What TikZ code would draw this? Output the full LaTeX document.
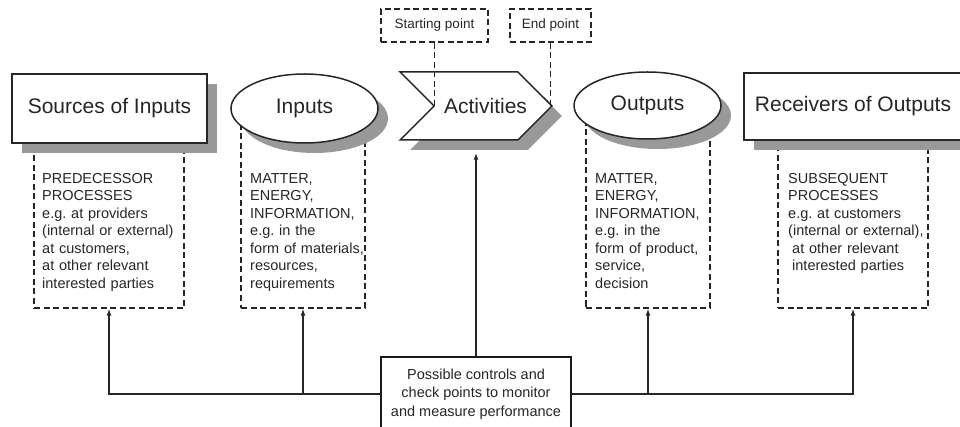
\documentclass[tikz,border=0pt]{standalone}
\usepackage{fontspec}
\setmainfont{Liberation Sans}
\frenchspacing
\usetikzlibrary{shapes.geometric,shapes.symbols,shadows,arrows.meta}

\begin{document}
\begin{tikzpicture}[x=1pt, y=-1pt, >={Latex[length=7pt,width=5pt]},
		block/.style={draw=black!85, line width=1.5pt, fill=white, inner sep=0pt, text=black!85, font=\fontsize{21}{25}\selectfont, drop shadow={shadow xshift=10pt, shadow yshift=-10pt, fill=black!40, opacity=1}},
		dashbox/.style={draw=black!85, line width=1.2pt, dash pattern=on 6pt off 3.5pt, inner sep=0pt},
		note/.style={anchor=north west, inner sep=0pt, text width=170pt, align=left, text=black!85, font=\fontsize{14.5}{17.5}\selectfont},
		link/.style={draw=black!85, line width=1.4pt}]
		\useasboundingbox (0,0) rectangle (960,427);
		\clip (0,0) rectangle (960,427);
		\node [dashbox, minimum width=150pt, minimum height=178pt] (srcbox) at (109,219) {};
		\node [dashbox, minimum width=124pt, minimum height=196pt] (inpbox) at (303,210) {};
		\node [dashbox, minimum width=124pt, minimum height=198pt] (outbox) at (648,209) {};
		\node [dashbox, minimum width=150pt, minimum height=183pt] (rcvbox) at (853,216.5) {};
		\node [block, rectangle, minimum width=195pt, minimum height=69pt] (src) at (109.5,108.5) {Sources of Inputs};
		\node [block, ellipse, minimum width=147pt, minimum height=69pt] (inp) at (304.5,108.5) {Inputs};
		\node [block, signal, signal from=west, signal to=east, minimum height=68pt, inner xsep=0.5pt] (act) at (476,106) {\hspace*{9.5pt}Activities\hspace*{-9.5pt}};
		\node [block, ellipse, minimum width=147pt, minimum height=67pt] (out) at (647.5,105.5) {Outputs};
		\node [block, rectangle, minimum width=218pt, minimum height=67pt] (rcv) at (853,106.5) {Receivers of Outputs};
		\node [dashbox, minimum width=107pt, minimum height=33pt, text=black!85, font=\fontsize{13.5}{16}\selectfont] (start) at (434.5,25.5) {Starting point};
		\node [dashbox, minimum width=81pt, minimum height=33pt, text=black!85, font=\fontsize{13.5}{16}\selectfont] (endpt) at (550.5,25.5) {End point};
		\draw [dashbox] (start.south) -- (start.south |- act.center);
		\draw [dashbox] (endpt.south) -- (endpt.south |- act.center);
		\node [note] (srctext) at (42,173) {PREDECESSOR\\PROCESSES\\e.g. at providers\\(internal or external)\\at customers,\\at other relevant\\interested parties};
		\node [note] (inptext) at (250,173) {MATTER,\\ENERGY,\\INFORMATION,\\e.g. in the\\form of materials,\\resources,\\requirements};
		\node [note] (outtext) at (595,173) {MATTER,\\ENERGY,\\INFORMATION,\\e.g. in the\\form of product,\\service,\\decision};
		\node [note] (rcvtext) at (788,173) {SUBSEQUENT\\PROCESSES\\e.g. at customers\\(internal or external),\\\hspace*{4pt}at other relevant\\\hspace*{4pt}interested parties};
		\node [draw=black!90, line width=2.5pt, fill=white, minimum width=190pt, minimum height=74pt, align=center, text=black!85, font=\fontsize{14.5}{18.5}\selectfont] (ctrl) at (476,394) {Possible controls and\\check points to monitor\\and measure performance};
		\draw [link, ->] (ctrl.north) -- ([yshift=-12pt]ctrl.north |- act.south);
		\draw [link, ->] (ctrl.west) -| (srcbox.south);
		\draw [link, ->] (inpbox.south |- ctrl.west) -- (inpbox.south);
		\draw [link, ->] (ctrl.east) -| (rcvbox.south);
		\draw [link, ->] (outbox.south |- ctrl.east) -- (outbox.south);
	\end{tikzpicture}
\end{document}
